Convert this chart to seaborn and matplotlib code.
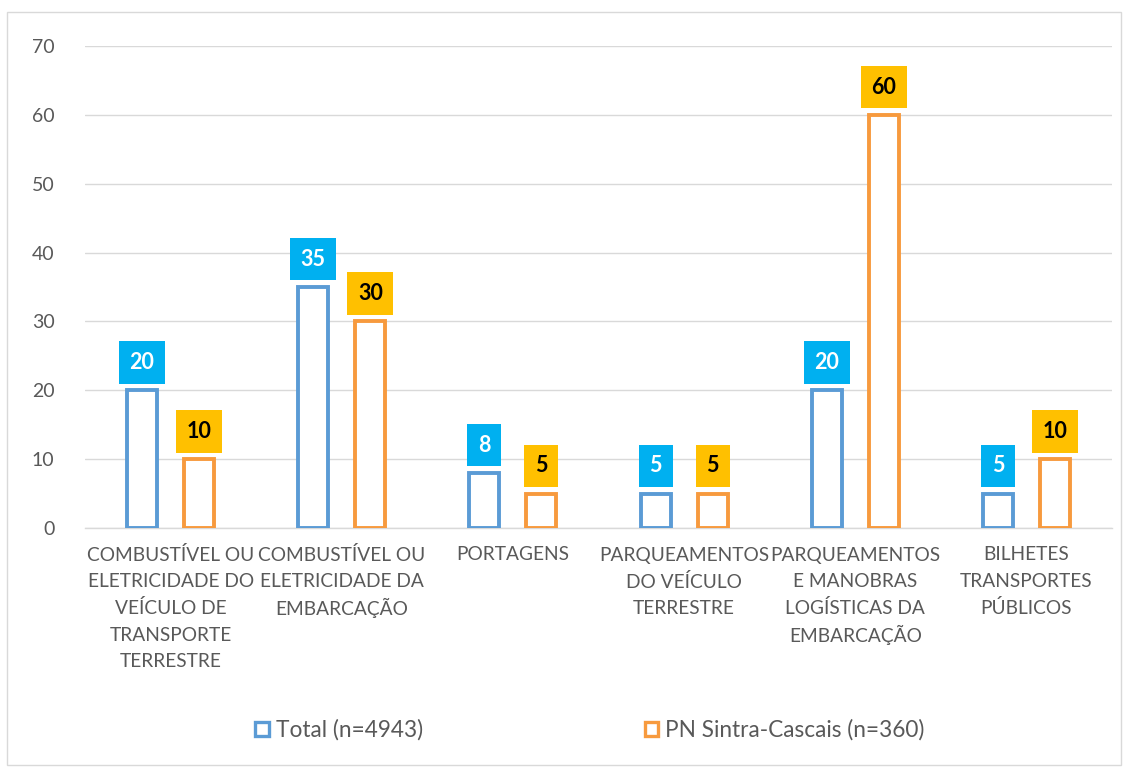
import matplotlib
matplotlib.use("Agg")
import matplotlib.pyplot as plt
from matplotlib.patches import Patch, Rectangle
import numpy as np
import pandas as pd
import seaborn as sns

categories = [
    "COMBUSTÍVEL OU\nELETRICIDADE DO\nVEÍCULO DE\nTRANSPORTE\nTERRESTRE",
    "COMBUSTÍVEL OU\nELETRICIDADE DA\nEMBARCAÇÃO",
    "PORTAGENS",
    "PARQUEAMENTOS\nDO VEÍCULO\nTERRESTRE",
    "PARQUEAMENTOS\nE MANOBRAS\nLOGÍSTICAS DA\nEMBARCAÇÃO",
    "BILHETES\nTRANSPORTES\nPÚBLICOS",
]
series_names = ["Total (n=4943)", "PN Sintra-Cascais (n=360)"]
total_values = [20, 35, 8, 5, 20, 5]
sintra_values = [10, 30, 5, 5, 60, 10]
y_ticks = [0, 10, 20, 30, 40, 50, 60, 70]

edge_colors = ["#5B9BD5", "#F79A3E"]
label_bg = ["#00B0F0", "#FFC000"]
label_fg = ["white", "black"]
text_gray = "#595959"

df = pd.DataFrame({
    "categoria": categories * 2,
    "serie": [series_names[0]] * len(categories) + [series_names[1]] * len(categories),
    "valor": total_values + sintra_values,
})

sns.set_theme(style="white")
plt.rcParams["font.family"] = ["Lato", "DejaVu Sans"]

W, H = 1128, 772
fig = plt.figure(figsize=(W / 100, H / 100), dpi=100)
ax_left, ax_right, ax_top, ax_bottom = 85, 1112, 46, 528
ax = fig.add_axes([ax_left / W, 1 - ax_bottom / H, (ax_right - ax_left) / W, (ax_bottom - ax_top) / H])
ax_h_px = ax_bottom - ax_top

sns.barplot(
    data=df, x="categoria", y="valor", hue="serie", order=categories,
    hue_order=series_names, width=0.667, gap=0.475, ax=ax,
    fill=False, legend=False, errorbar=None,
)

# outline-only bars with series colours
for cont, col in zip(ax.containers, edge_colors):
    for p in cont:
        p.set_edgecolor(col)
        p.set_facecolor("white")
        p.set_linewidth(2.8)
        p.set_zorder(3)

# value boxes above each bar
for cont, vals, bg, fg in zip(ax.containers, [total_values, sintra_values], label_bg, label_fg):
    for p, v in zip(cont, vals):
        x = p.get_x() + p.get_width() / 2
        ax.annotate(
            f"{v}", xy=(x, p.get_height()), xytext=(0, 20), textcoords="offset points",
            ha="center", va="center", fontsize=15.5, fontweight="bold", color=fg,
            bbox=dict(boxstyle="square,pad=0.5", fc=bg, ec="none"), zorder=5,
        )

ax.set_ylim(0, 70)
ax.set_xlim(-0.5, len(categories) - 0.5)
ax.set_yticks(y_ticks)
ax.set_yticklabels([str(t) for t in y_ticks], color=text_gray, fontsize=14)
ax.yaxis.grid(True, color="#D9D9D9", linewidth=1)
ax.set_axisbelow(True)
ax.tick_params(axis="y", length=0, pad=22)

# category names, one text per line so every line keeps the same pitch
ax.set_xticks(range(len(categories)))
ax.set_xticklabels([])
ax.set_xticks(np.arange(-0.5, len(categories), 1.0), minor=True)
ax.tick_params(axis="x", which="major", length=0)
ax.tick_params(axis="x", which="minor", length=8, color="#D9D9D9", width=1)
xtrans = ax.get_xaxis_transform()
for i, name in enumerate(categories):
    for j, line in enumerate(name.split("\n")):
        ax.text(i, -(27 + j * 26.7) / ax_h_px, line, transform=xtrans,
                ha="center", va="center", fontsize=13.8, color=text_gray)
ax.set_xlabel("")
ax.set_ylabel("")

for side in ["top", "right", "left"]:
    ax.spines[side].set_visible(False)
ax.spines["bottom"].set_color("#D9D9D9")
ax.spines["bottom"].set_linewidth(1)

handles = [Patch(facecolor="white", edgecolor=c, linewidth=2.4) for c in edge_colors]
fig.legend(
    handles, series_names, loc="center", bbox_to_anchor=(0.523, 1 - 730 / H),
    ncol=2, frameon=False, fontsize=16.3, labelcolor=text_gray,
    handlelength=0.6, handleheight=0.6, handletextpad=0.3, columnspacing=9.8,
)

fig.patches.append(Rectangle((7 / W, 1 - 765 / H), 1114 / W, 753 / H,
                             transform=fig.transFigure, fill=False,
                             edgecolor="#D9D9D9", linewidth=1))

fig.savefig("out.png", dpi=100, facecolor="white")
